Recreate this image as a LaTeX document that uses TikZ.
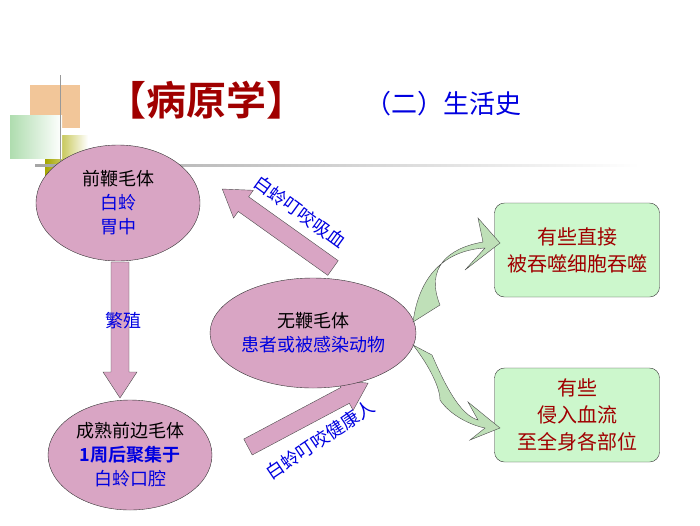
\documentclass[tikz,border=0pt]{standalone}
\usepackage{fontspec}
\setmainfont{Noto Sans CJK SC}
\newfontfamily\cjkb{Noto Sans CJK SC Bold}
\usetikzlibrary{shapes.geometric}
\definecolor{pinkf}{HTML}{D9A5C4}
\definecolor{greenf}{HTML}{CCF7CC}
\definecolor{leaf}{HTML}{BFE0B8}
\definecolor{dred}{HTML}{A00000}
\definecolor{tblue}{HTML}{0000E0}
\tikzset{
 ell/.style={ellipse,draw=black!80,fill=pinkf,align=center,inner sep=0pt,font=\fontsize{18}{24}\selectfont},
 gbox/.style={rectangle,rounded corners=10pt,draw=black!80,fill=greenf,align=center,text=dred,font=\fontsize{20}{27}\selectfont,minimum width=165pt,inner sep=1pt},
 barrow/.style={draw=black!70,fill=pinkf},
 lbl/.style={text=tblue,font=\fontsize{18}{20}\selectfont},
 leafarr/.style={draw=black!70,fill=leaf}
}
\newcommand\blockarrow[4]{% x,y,angle,length
 \begin{scope}[shift={(#1,#2)},rotate=#3]
 \draw[barrow] (0,-9) -- (#4-26,-9) -- (#4-26,-17) -- (#4,0) -- (#4-26,17) -- (#4-26,9) -- (0,9) -- cycle;
 \end{scope}}
\begin{document}
\begin{tikzpicture}[x=1pt,y=-1pt]
\useasboundingbox (0,0) rectangle (700,525);
% decoration
\fill[brown!45!orange!45] (30,85) rectangle (80,128);
\shade[left color=olive!70, right color=white] (45,135) rectangle (88,180);
\shade[left color=green!40!gray!45, right color=white] (10,115) rectangle (62,158);
\draw[gray!80] (60,75) -- (60,182);
\shade[left color=gray!70,right color=white] (35,164) rectangle (640,166);
\node[anchor=west,text=dred,font=\cjkb\fontsize{40}{42}\selectfont] (t1) at (103,100) {【病原学】};
\node[anchor=west,text=tblue,font=\fontsize{26}{28}\selectfont] (t2) at (362,104) {（二）生活史};
% block arrows
\blockarrow{120}{262}{-90}{136}
\blockarrow{333}{268}{144.5}{136}
\blockarrow{248}{447}{28}{136}
% ellipses
\node[ell,minimum width=164pt,minimum height=116pt] (a) at (118,203) {前鞭毛体\\\textcolor{tblue}{白蛉}\\\textcolor{tblue}{胃中}};
\node[ell,minimum width=164pt,minimum height=110pt] (b) at (130,455) {成熟前边毛体\\\textcolor{tblue}{\cjkb 1周后聚集于}\\\textcolor{tblue}{白蛉口腔}};
\node[ell,minimum width=206pt,minimum height=110pt] (m) at (313,333) {无鞭毛体\\\textcolor{tblue}{患者或被感染动物}};
\node[lbl] at (123,321) {繁殖};
\node[lbl,rotate=-36] at (300,212) {白蛉叮咬吸血};
\node[lbl,rotate=34] at (320,440) {白蛉叮咬健康人};
% green boxes
\node[gbox,minimum height=94pt] (g1) at (577,250) {有些直接\\被吞噬细胞吞噬};
\node[gbox,minimum height=94pt] (g2) at (577,415) {有些\\侵入血流\\至全身各部位};
% curved leaf arrows
\draw[leafarr] (413,322) .. controls (420,270) and (450,250) .. (485,248)
 -- (465,270) -- (500,243) -- (478,218) -- (483,242)
 .. controls (448,248) and (425,268) .. (440,305) -- cycle;
\draw[leafarr] (413,345) .. controls (425,360) and (440,385) .. (440,400)
 .. controls (450,415) and (470,425) .. (485,428) -- (470,440) -- (500,428) -- (468,402) -- (478,420)
 .. controls (460,415) and (445,385) .. (432,355) -- cycle;
\end{tikzpicture}
\end{document}
